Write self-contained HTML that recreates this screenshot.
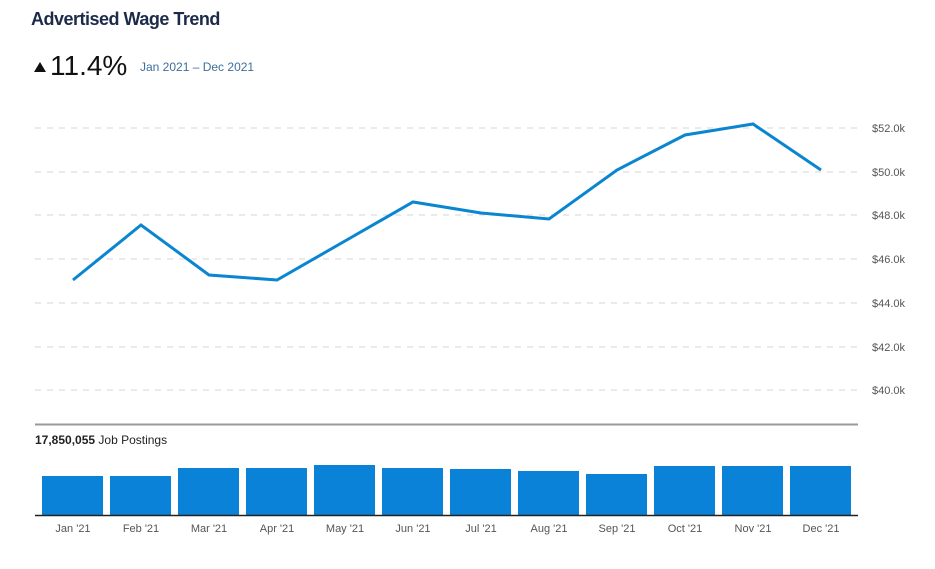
<!DOCTYPE html><html><head><style>
body{margin:0;background:#fff;width:935px;height:564px;overflow:hidden;font-family:"Liberation Sans",sans-serif}
</style></head><body>
<svg width="935" height="564" xmlns="http://www.w3.org/2000/svg" font-family="Liberation Sans, sans-serif">
<text x="31" y="25" font-size="18" fill="#1c2b4a" font-weight="bold" letter-spacing="-0.5">Advertised Wage Trend</text>
<polygon points="34,72 40,62 46,72" fill="#111"/>
<text x="50" y="75" font-size="28" fill="#111">11.4%</text>
<text x="140" y="71" font-size="12" fill="#3d6e9e">Jan 2021 – Dec 2021</text>
<g stroke="#e3e3e3" stroke-width="1.5" stroke-dasharray="6,6">
<line x1="35" x2="858" y1="128" y2="128"/><line x1="35" x2="858" y1="172" y2="172"/>
<line x1="35" x2="858" y1="215" y2="215"/><line x1="35" x2="858" y1="259" y2="259"/>
<line x1="35" x2="858" y1="303" y2="303"/><line x1="35" x2="858" y1="347" y2="347"/>
<line x1="35" x2="858" y1="390" y2="390"/></g>
<g font-size="11" fill="#555">
<text x="872" y="132">$52.0k</text><text x="872" y="176">$50.0k</text><text x="872" y="219">$48.0k</text>
<text x="872" y="263">$46.0k</text><text x="872" y="307">$44.0k</text><text x="872" y="351">$42.0k</text>
<text x="872" y="394">$40.0k</text></g>
<polyline fill="none" stroke="#0a85d0" stroke-width="3" stroke-linejoin="miter" points="73,280 141,225 209,275 277,280 345,241 413,202 481,213 549,219 617,170 685,135 753,124 821,170"/>
<line x1="35" x2="858" y1="424.5" y2="424.5" stroke="#999" stroke-width="2"/>
<text x="35" y="444" font-size="12" fill="#222"><tspan font-weight="bold">17,850,055</tspan> Job Postings</text>
<g fill="#0a82d8">
<rect x="42" y="476" width="61" height="39"/><rect x="110" y="476" width="61" height="39"/>
<rect x="178" y="468" width="61" height="47"/><rect x="246" y="468" width="61" height="47"/>
<rect x="314" y="465" width="61" height="50"/><rect x="382" y="468" width="61" height="47"/>
<rect x="450" y="469" width="61" height="46"/><rect x="518" y="471" width="61" height="44"/>
<rect x="586" y="474" width="61" height="41"/><rect x="654" y="466" width="61" height="49"/>
<rect x="722" y="466" width="61" height="49"/><rect x="790" y="466" width="61" height="49"/></g>
<line x1="35" x2="858" y1="515.5" y2="515.5" stroke="#222" stroke-width="1.5"/>
<g font-size="11" fill="#555" text-anchor="middle">
<text x="73" y="532">Jan '21</text><text x="141" y="532">Feb '21</text><text x="209" y="532">Mar '21</text>
<text x="277" y="532">Apr '21</text><text x="345" y="532">May '21</text><text x="413" y="532">Jun '21</text>
<text x="481" y="532">Jul '21</text><text x="549" y="532">Aug '21</text><text x="617" y="532">Sep '21</text>
<text x="685" y="532">Oct '21</text><text x="753" y="532">Nov '21</text><text x="821" y="532">Dec '21</text></g>
</svg></body></html>
